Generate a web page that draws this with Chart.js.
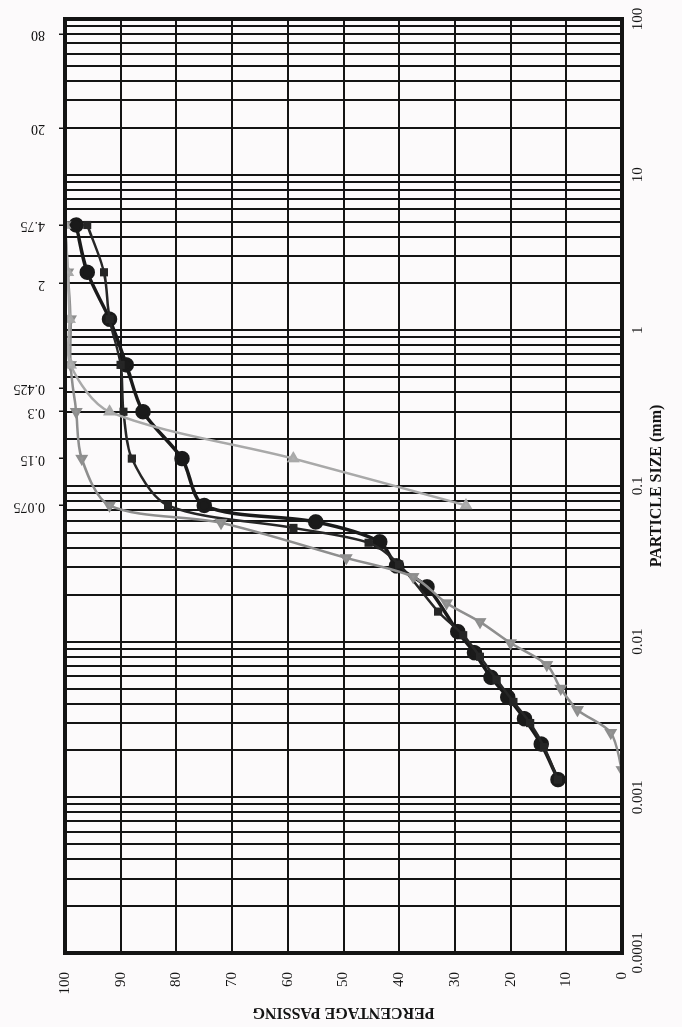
<!DOCTYPE html>
<html>
<head>
<meta charset="utf-8">
<script src="https://cdn.jsdelivr.net/npm/chart.js@4.4.1/dist/chart.umd.min.js"></script>
<style>
  body { margin: 0; background: #fcfafb; overflow: hidden; }
  /* the chart is drawn in its normal orientation, then turned a quarter left */
  #wrap { position: absolute; left: 0; top: 0; width: 1027px; height: 682px;
          transform-origin: 0 0; transform: translate(0px, 1027px) rotate(-90deg); }
</style>
</head>
<body>
<div id="wrap"><canvas id="grading" width="1027" height="682"></canvas></div>
<script>
// particle size axis (mm)
const sizeDecades = [0.0001, 0.001, 0.01, 0.1, 1, 10, 100];
const sizeLabels = ['0.0001', '0.001', '0.01', '0.1', '1', '10', '100'];
// sieve marks along the top
const sieveSizes = [0.075, 0.15, 0.3, 0.425, 2, 4.75, 20, 80];
const sieveLabels = ['0.075', '0.15', '0.3', '0.425', '2', '4.75', '20', '80'];

// sample 1 - black, circles
const sizeA = [4.75, 2.36, 1.18, 0.6, 0.3, 0.15, 0.075, 0.0588, 0.0438, 0.0307, 0.0225, 0.0116, 0.0085, 0.0059, 0.0044, 0.0032, 0.0022, 0.0013];
const passA = [98, 96, 92, 89, 86, 79, 75, 55, 43.5, 40.5, 35, 29.5, 26.5, 23.5, 20.5, 17.5, 14.5, 11.5];
// sample 2 - black, squares
const sizeB = [4.75, 2.36, 1.18, 0.6, 0.3, 0.15, 0.075, 0.0538, 0.0432, 0.0313, 0.0156, 0.011, 0.008, 0.0057, 0.0041, 0.003, 0.0021, 0.0013];
const passB = [96, 93, 92, 90, 89.5, 88, 81.5, 59, 45.5, 40, 33, 28.5, 25.5, 22.5, 19.5, 16.5, 14, 11.5];
// sample 3 - grey, down triangles
const sizeC = [4.75, 2.36, 1.18, 0.6, 0.3, 0.15, 0.075, 0.058, 0.0345, 0.0261, 0.0177, 0.0134, 0.0098, 0.0071, 0.005, 0.00365, 0.0026, 0.0015];
const passC = [100, 99.5, 99, 99, 98, 97, 92, 72, 49.5, 37.5, 31.5, 25.5, 20, 13.5, 11, 8, 2, 0];
// sample 4 - light grey, triangles
const sizeD = [4.75, 2.36, 1.18, 0.6, 0.3, 0.15, 0.075];
const passD = [100, 99.5, 99.2, 99, 92, 59, 28];

function toPoints(sizes, pass) {
    return sizes.map((s, i) => ({x: s, y: pass[i]}));
}

// grid lines at 1..9 x each decade
const gridSizes = [];
sizeDecades.forEach((d, k) => {
    if (k === sizeDecades.length - 1) { gridSizes.push(d); return; }
    for (let m = 1; m < 10; m++) gridSizes.push(m * d);
});

function decadeLabel(v) {
    const i = sizeDecades.findIndex(d => Math.abs(Math.log10(d) - Math.log10(v)) < 1e-6);
    return i < 0 ? '' : sizeLabels[i];
}

const ink = '#141414';
const serif = 'Liberation Serif';

const framePlugin = {
    id: 'frame',
    afterDraw(chart) {
        const {ctx, chartArea: a} = chart;
        ctx.save();
        ctx.strokeStyle = ink;
        ctx.lineWidth = 4;
        ctx.strokeRect(a.left, a.top, a.right - a.left, a.bottom - a.top);
        ctx.restore();
    }
};

function loadGradingChart() {
    const ctx = document.getElementById('grading').getContext('2d');
    new Chart(ctx, {
        type: 'scatter',
        data: {
            datasets: [{
                label: 'Sample 4',
                data: toPoints(sizeD, passD),
                showLine: true,
                borderColor: '#a9a9a9',
                backgroundColor: '#b0b0b0',
                borderWidth: 2.5,
                pointStyle: 'triangle',
                rotation: 90,
                pointRadius: 5,
                tension: 0.3
            }, {
                label: 'Sample 3',
                data: toPoints(sizeC, passC),
                showLine: true,
                borderColor: '#8e8e8e',
                backgroundColor: '#959595',
                borderWidth: 2.5,
                pointStyle: 'triangle',
                rotation: -90,
                pointRadius: 5,
                tension: 0.3
            }, {
                label: 'Sample 2',
                data: toPoints(sizeB, passB),
                showLine: true,
                borderColor: '#262626',
                backgroundColor: '#262626',
                borderWidth: 2.5,
                pointStyle: 'rect',
                pointRadius: 4,
                tension: 0.3
            }, {
                label: 'Sample 1',
                data: toPoints(sizeA, passA),
                showLine: true,
                borderColor: '#1a1a1a',
                backgroundColor: '#1a1a1a',
                borderWidth: 3.5,
                pointStyle: 'circle',
                pointRadius: 6,
                tension: 0.3
            }]
        },
        options: {
            responsive: false,
            animation: false,
            devicePixelRatio: 1,
            layout: {padding: {right: 19}},
            plugins: {legend: {display: false}, tooltip: {enabled: false}},
            scales: {
                x: {
                    type: 'logarithmic',
                    position: 'bottom',
                    min: 0.0001,
                    max: 100,
                    afterBuildTicks: (s) => { s.ticks = gridSizes.map(v => ({value: v})); },
                    afterFit: (s) => { s.height = 60; },
                    ticks: {
                        autoSkip: false, maxRotation: 0, minRotation: 0, padding: 7,
                        color: ink, font: {family: serif, size: 15},
                        callback: (v) => decadeLabel(v)
                    },
                    grid: {color: ink, lineWidth: 2, drawTicks: false},
                    border: {display: false},
                    title: {
                        display: true, text: 'PARTICLE SIZE (mm)', color: ink,
                        font: {family: serif, size: 16, weight: 'bold'},
                        padding: {top: 0, bottom: 16}
                    }
                },
                x2: {
                    type: 'logarithmic',
                    position: 'top',
                    min: 0.0001,
                    max: 100,
                    afterBuildTicks: (s) => { s.ticks = sieveSizes.map(v => ({value: v})); },
                    afterFit: (s) => { s.height = 65; },
                    ticks: {
                        autoSkip: false, maxRotation: 90, minRotation: 90, padding: 14,
                        labelOffset: 16,
                        color: ink, font: {family: serif, size: 14},
                        callback: (v, i) => sieveLabels[i]
                    },
                    grid: {drawOnChartArea: false, color: ink, lineWidth: 1.5, tickLength: 6},
                    border: {display: false}
                },
                y: {
                    min: 0,
                    max: 100,
                    afterFit: (s) => { s.width = 74; },
                    ticks: {
                        stepSize: 10, padding: 19,
                        color: ink, font: {family: serif, size: 15}
                    },
                    grid: {color: ink, lineWidth: 2, drawTicks: false},
                    border: {display: false},
                    title: {
                        display: true, text: 'PERCENTAGE PASSING', color: ink,
                        font: {family: serif, size: 16, weight: 'bold'},
                        padding: {top: 5, bottom: 0}
                    }
                }
            }
        },
        plugins: [framePlugin]
    });
}

window.addEventListener('load', () => {
    loadGradingChart();
});
</script>
</body>
</html>
